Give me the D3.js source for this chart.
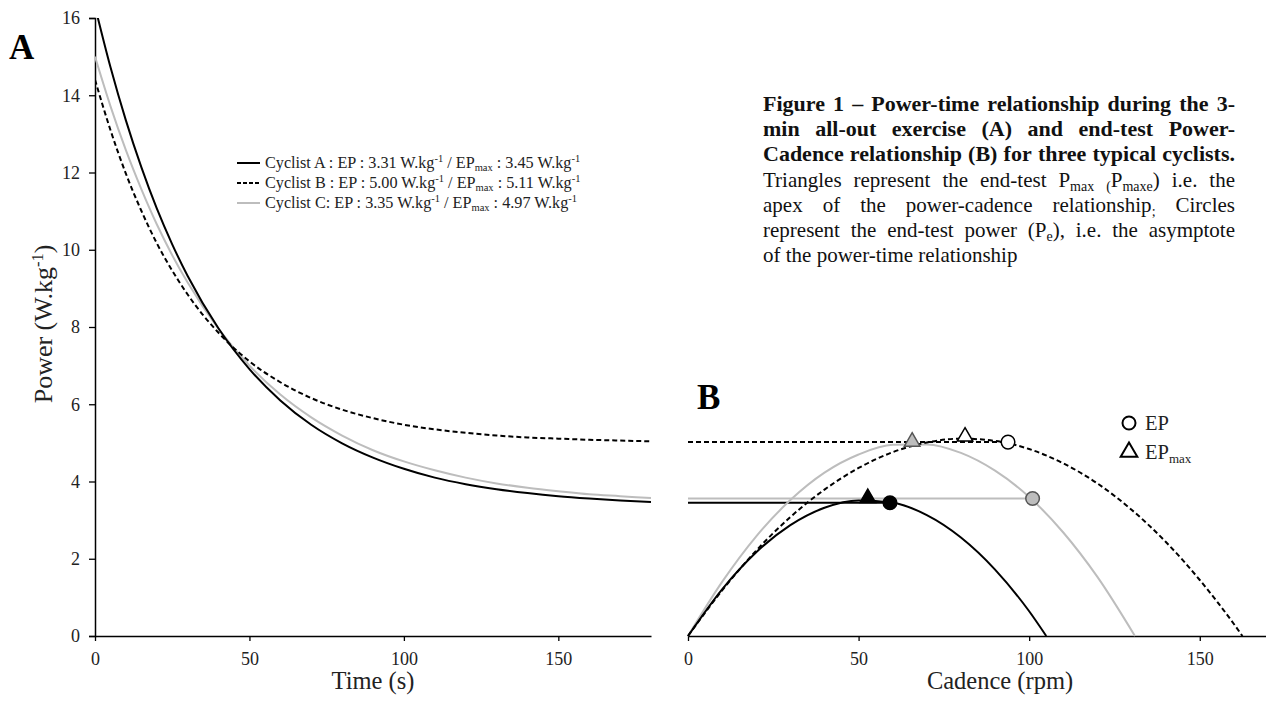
<!DOCTYPE html>
<html>
<head>
<meta charset="utf-8">
<script src="https://cdn.jsdelivr.net/npm/d3@7"></script>
<style>
  body { margin: 0; background: #fff; }
  svg { font-family: "Liberation Serif", "Times New Roman", serif; }
</style>
</head>
<body>
<svg id="chart" width="1266" height="702"></svg>
<script>
// panel A : power-time during the 3-min all-out test
var timeS = [0, 5, 10, 15, 20, 25, 30, 40, 50, 60, 70, 80, 90, 100, 110, 120, 130, 140, 150, 160, 170, 180];
var powerA = [16.3, 14.73, 13.35, 12.14, 11.07, 10.14, 9.32, 7.96, 6.91, 6.10, 5.47, 4.99, 4.62, 4.33, 4.10, 3.93, 3.80, 3.70, 3.62, 3.56, 3.51, 3.47];
var powerB = [14.4, 13.10, 11.97, 11.01, 10.17, 9.46, 8.84, 7.85, 7.11, 6.57, 6.16, 5.86, 5.64, 5.47, 5.35, 5.26, 5.19, 5.14, 5.11, 5.08, 5.06, 5.04];
var powerC = [15.0, 13.72, 12.58, 11.57, 10.66, 9.86, 9.15, 7.95, 7.00, 6.25, 5.66, 5.19, 4.81, 4.52, 4.29, 4.10, 3.95, 3.84, 3.75, 3.67, 3.62, 3.57];

// panel B : end-test power-cadence
var cadA = [0, 10, 20, 30, 40, 50, 60, 70, 80, 90, 100, 105];
var pcA = [0, 1.21, 2.17, 2.87, 3.32, 3.51, 3.45, 3.13, 2.55, 1.72, 0.64, 0];
var cadB = [0, 10, 20, 30, 40, 50, 60, 70, 80, 90, 100, 110, 120, 130, 140, 150, 160, 162.5];
var pcB = [0, 1.18, 2.21, 3.08, 3.79, 4.35, 4.76, 5.01, 5.11, 5.05, 4.84, 4.47, 3.95, 3.27, 2.44, 1.45, 0.31, 0];
var cadC = [0, 10, 20, 30, 40, 50, 60, 70, 80, 90, 100, 110, 120, 131];
var pcC = [0, 1.40, 2.58, 3.52, 4.23, 4.70, 4.95, 4.96, 4.74, 4.28, 3.60, 2.68, 1.53, 0];

// EP (circles) and EPmax (triangles) per cyclist
var cyclists = ["A", "B", "C"];
var epCad = [59.2, 93.8, 101];
var epPow = [3.45, 5.02, 3.56];
var epmaxCad = [52.7, 81.2, 65.7];
var epmaxPow = [3.52, 5.11, 4.98];

var timeTicks = [0, 50, 100, 150];
var powerTicks = [0, 2, 4, 6, 8, 10, 12, 14, 16];
var cadTicks = [0, 50, 100, 150];

var legendText = [
	["Cyclist A : EP : 3.31 W.kg", "-1", " / EP", "max", " : 3.45 W.kg", "-1"],
	["Cyclist B : EP : 5.00 W.kg", "-1", " / EP", "max", " : 5.11 W.kg", "-1"],
	["Cyclist C: EP : 3.35 W.kg", "-1", " / EP", "max", " : 4.97 W.kg", "-1"]
];

// caption lines, each part is [text, isSubscript]
var capLines = [
	{ bold: true, parts: [["Figure 1 \u2013 Power-time relationship during the 3-", 0]] },
	{ bold: true, parts: [["min all-out exercise (A) and end-test Power-", 0]] },
	{ bold: true, parts: [["Cadence relationship (B) for three typical cyclists.", 0]] },
	{ bold: false, parts: [["Triangles represent the end-test P", 0], ["max (", 1], ["P", 0], ["maxe", 1], [") i.e. the", 0]] },
	{ bold: false, parts: [["apex of the power-cadence relationship", 0], [";", 1], [" Circles", 0]] },
	{ bold: false, parts: [["represent the end-test power (P", 0], ["e", 1], ["), i.e. the asymptote", 0]] },
	{ bold: false, last: true, parts: [["of the power-time relationship", 0]] }
];

var lineColor = { A: "#000", B: "#000", C: "#bdbdbd" };
var lineDash = { A: null, B: "5,3", C: null };
var fillColor = { A: "#000", B: "#fff", C: "#bdbdbd" };

var svg = d3.select("#chart");

// scales
var x = d3.scaleLinear().domain([0, 180]).range([95, 651]);
var y = d3.scaleLinear().domain([0, 16]).range([636, 18]);
var xc = d3.scaleLinear().domain([0, 170]).range([688, 1268]);

function styleAxis(ax) {
	ax.select(".domain").attr("stroke", "#000").attr("stroke-width", 1.5);
	ax.selectAll(".tick line").attr("stroke", "#000").attr("stroke-width", 1.3);
	ax.selectAll("text").attr("font-family", "Liberation Serif").attr("font-size", 18).attr("fill", "#222");
}

// ---------- panel A ----------
svg.append("clipPath").attr("id", "clipA")
	.append("rect").attr("x", 95).attr("y", 18).attr("width", 560).attr("height", 620);

var gA = svg.append("g");

gA.append("g")
	.attr("transform", "translate(95,0)")
	.call(d3.axisLeft(y).tickValues(powerTicks).tickSize(6).tickPadding(9))
	.call(styleAxis);

gA.append("g")
	.attr("transform", "translate(0,636)")
	.call(d3.axisBottom(x).tickValues(timeTicks).tickSize(5).tickPadding(11).tickSizeOuter(0))
	.call(styleAxis);

var lineT = d3.line()
	.x(function(d) { return x(d[0]); })
	.y(function(d) { return y(d[1]); })
	.curve(d3.curveMonotoneX);

var series = { A: powerA, B: powerB, C: powerC };
["C", "B", "A"].forEach(function(k) {
	var pts = timeS.map(function(t, i) { return [t, series[k][i]]; });
	gA.append("path")
		.attr("clip-path", "url(#clipA)")
		.attr("d", lineT(pts))
		.attr("fill", "none")
		.attr("stroke", lineColor[k])
		.attr("stroke-width", 2)
		.attr("stroke-dasharray", lineDash[k]);
});

// axis titles A
var yt = svg.append("text")
	.attr("transform", "translate(52,324) rotate(-90)")
	.attr("text-anchor", "middle")
	.attr("font-size", 26)
	.attr("fill", "#222");
yt.append("tspan").text("Power (W.kg");
yt.append("tspan").attr("dy", -9).attr("font-size", 16.5).text("-1");
yt.append("tspan").attr("dy", 9).text(")");

svg.append("text")
	.attr("x", 373).attr("y", 689)
	.attr("text-anchor", "middle")
	.attr("font-size", 24.5)
	.attr("fill", "#222")
	.text("Time (s)");

svg.append("text")
	.attr("x", 9).attr("y", 59)
	.attr("font-size", 35).attr("font-weight", "bold")
	.text("A");

// legend A
legendText.forEach(function(parts, i) {
	var k = cyclists[i];
	var ly = 163 + i * 20;
	svg.append("line")
		.attr("x1", 237).attr("x2", 260)
		.attr("y1", ly).attr("y2", ly)
		.attr("stroke", lineColor[k])
		.attr("stroke-width", 2)
		.attr("stroke-dasharray", lineDash[k] ? "4,2" : null);
	var t = svg.append("text")
		.attr("x", 265).attr("y", ly + 5)
		.attr("font-size", 16.2)
		.attr("fill", "#222");
	t.append("tspan").text(parts[0]);
	t.append("tspan").attr("dy", -6).attr("font-size", 10.5).text(parts[1]);
	t.append("tspan").attr("dy", 6).text(parts[2]);
	t.append("tspan").attr("dy", 3).attr("font-size", 10.5).text(parts[3]);
	t.append("tspan").attr("dy", -3).text(parts[4]);
	t.append("tspan").attr("dy", -6).attr("font-size", 10.5).text(parts[5]);
});

// ---------- panel B ----------
var gB = svg.append("g");

gB.append("g")
	.attr("transform", "translate(0,636)")
	.call(d3.axisBottom(xc).tickValues(cadTicks).tickSize(5).tickPadding(11).tickSizeOuter(0))
	.call(styleAxis);

var lineC = d3.line()
	.x(function(d) { return xc(d[0]); })
	.y(function(d) { return y(d[1]); })
	.curve(d3.curveMonotoneX);

var cadSeries = { A: [cadA, pcA], B: [cadB, pcB], C: [cadC, pcC] };

// EP asymptotes carried over from panel A
["C", "A", "B"].forEach(function(k) {
	var i = cyclists.indexOf(k);
	gB.append("line")
		.attr("x1", xc(0)).attr("x2", xc(epCad[i]))
		.attr("y1", y(epPow[i])).attr("y2", y(epPow[i]))
		.attr("stroke", lineColor[k])
		.attr("stroke-width", 2)
		.attr("stroke-dasharray", lineDash[k]);
});

["C", "A", "B"].forEach(function(k) {
	var s = cadSeries[k];
	var pts = s[0].map(function(c, i) { return [c, s[1][i]]; });
	gB.append("path")
		.attr("d", lineC(pts))
		.attr("fill", "none")
		.attr("stroke", lineColor[k])
		.attr("stroke-width", 2)
		.attr("stroke-dasharray", lineDash[k]);
});

var tri = d3.symbol().type(d3.symbolTriangle).size(105);

cyclists.forEach(function(k, i) {
	gB.append("path")
		.attr("d", tri())
		.attr("transform", "translate(" + xc(epmaxCad[i]) + "," + (y(epmaxPow[i]) - 2) + ")")
		.attr("fill", fillColor[k])
		.attr("stroke", k == "C" ? "#555" : "#000")
		.attr("stroke-width", 1.5);
	gB.append("circle")
		.attr("cx", xc(epCad[i]))
		.attr("cy", y(epPow[i]))
		.attr("r", 6.8)
		.attr("fill", fillColor[k])
		.attr("stroke", k == "C" ? "#555" : "#000")
		.attr("stroke-width", 1.5);
});

// legend B
svg.append("circle").attr("cx", 1129).attr("cy", 423).attr("r", 6.5)
	.attr("fill", "none").attr("stroke", "#000").attr("stroke-width", 2);
svg.append("text").attr("x", 1145).attr("y", 430).attr("font-size", 20.5).attr("fill", "#222").text("EP");
svg.append("path").attr("d", d3.symbol().type(d3.symbolTriangle).size(120)())
	.attr("transform", "translate(1129,452)")
	.attr("fill", "none").attr("stroke", "#000").attr("stroke-width", 2);
var lt = svg.append("text").attr("x", 1145).attr("y", 459).attr("font-size", 20.5).attr("fill", "#222");
lt.append("tspan").text("EP");
lt.append("tspan").attr("dy", 4).attr("font-size", 13).text("max");

svg.append("text")
	.attr("x", 1000).attr("y", 689)
	.attr("text-anchor", "middle")
	.attr("font-size", 24.5)
	.attr("fill", "#222")
	.text("Cadence (rpm)");

svg.append("text")
	.attr("x", 697).attr("y", 409)
	.attr("font-size", 35).attr("font-weight", "bold")
	.text("B");

// ---------- caption (justified by spreading the words) ----------
var capX = 763, capW = 472, subSize = 14;

capLines.forEach(function(line, li) {
	var size = line.bold ? 22 : 21;
	var words = [[]];
	line.parts.forEach(function(p) {
		p[0].split(" ").forEach(function(tok, j) {
			if (j > 0) words.push([]);
			if (tok !== "") words[words.length - 1].push([tok, p[1]]);
		});
	});
	words = words.filter(function(w) { return w.length; });

	var baseY = 111 + li * 25.2;
	var nodes = words.map(function(w) {
		var t = svg.append("text")
			.attr("y", baseY)
			.attr("font-size", size)
			.attr("font-weight", line.bold ? "bold" : "normal")
			.attr("fill", "#111");
		var shift = 0;
		w.forEach(function(seg) {
			var s = seg[1] ? 4 : 0;
			t.append("tspan")
				.attr("dy", s - shift)
				.attr("font-size", seg[1] ? subSize : size)
				.text(seg[0]);
			shift = s;
		});
		return t;
	});
	var widths = nodes.map(function(t) { return t.node().getComputedTextLength(); });
	var total = d3.sum(widths);
	var gap = line.last || words.length < 2 ? size * 0.25 : (capW - total) / (words.length - 1);
	var cx = capX;
	nodes.forEach(function(t, i) {
		t.attr("x", cx);
		cx += widths[i] + gap;
	});
});
</script>
</body>
</html>
